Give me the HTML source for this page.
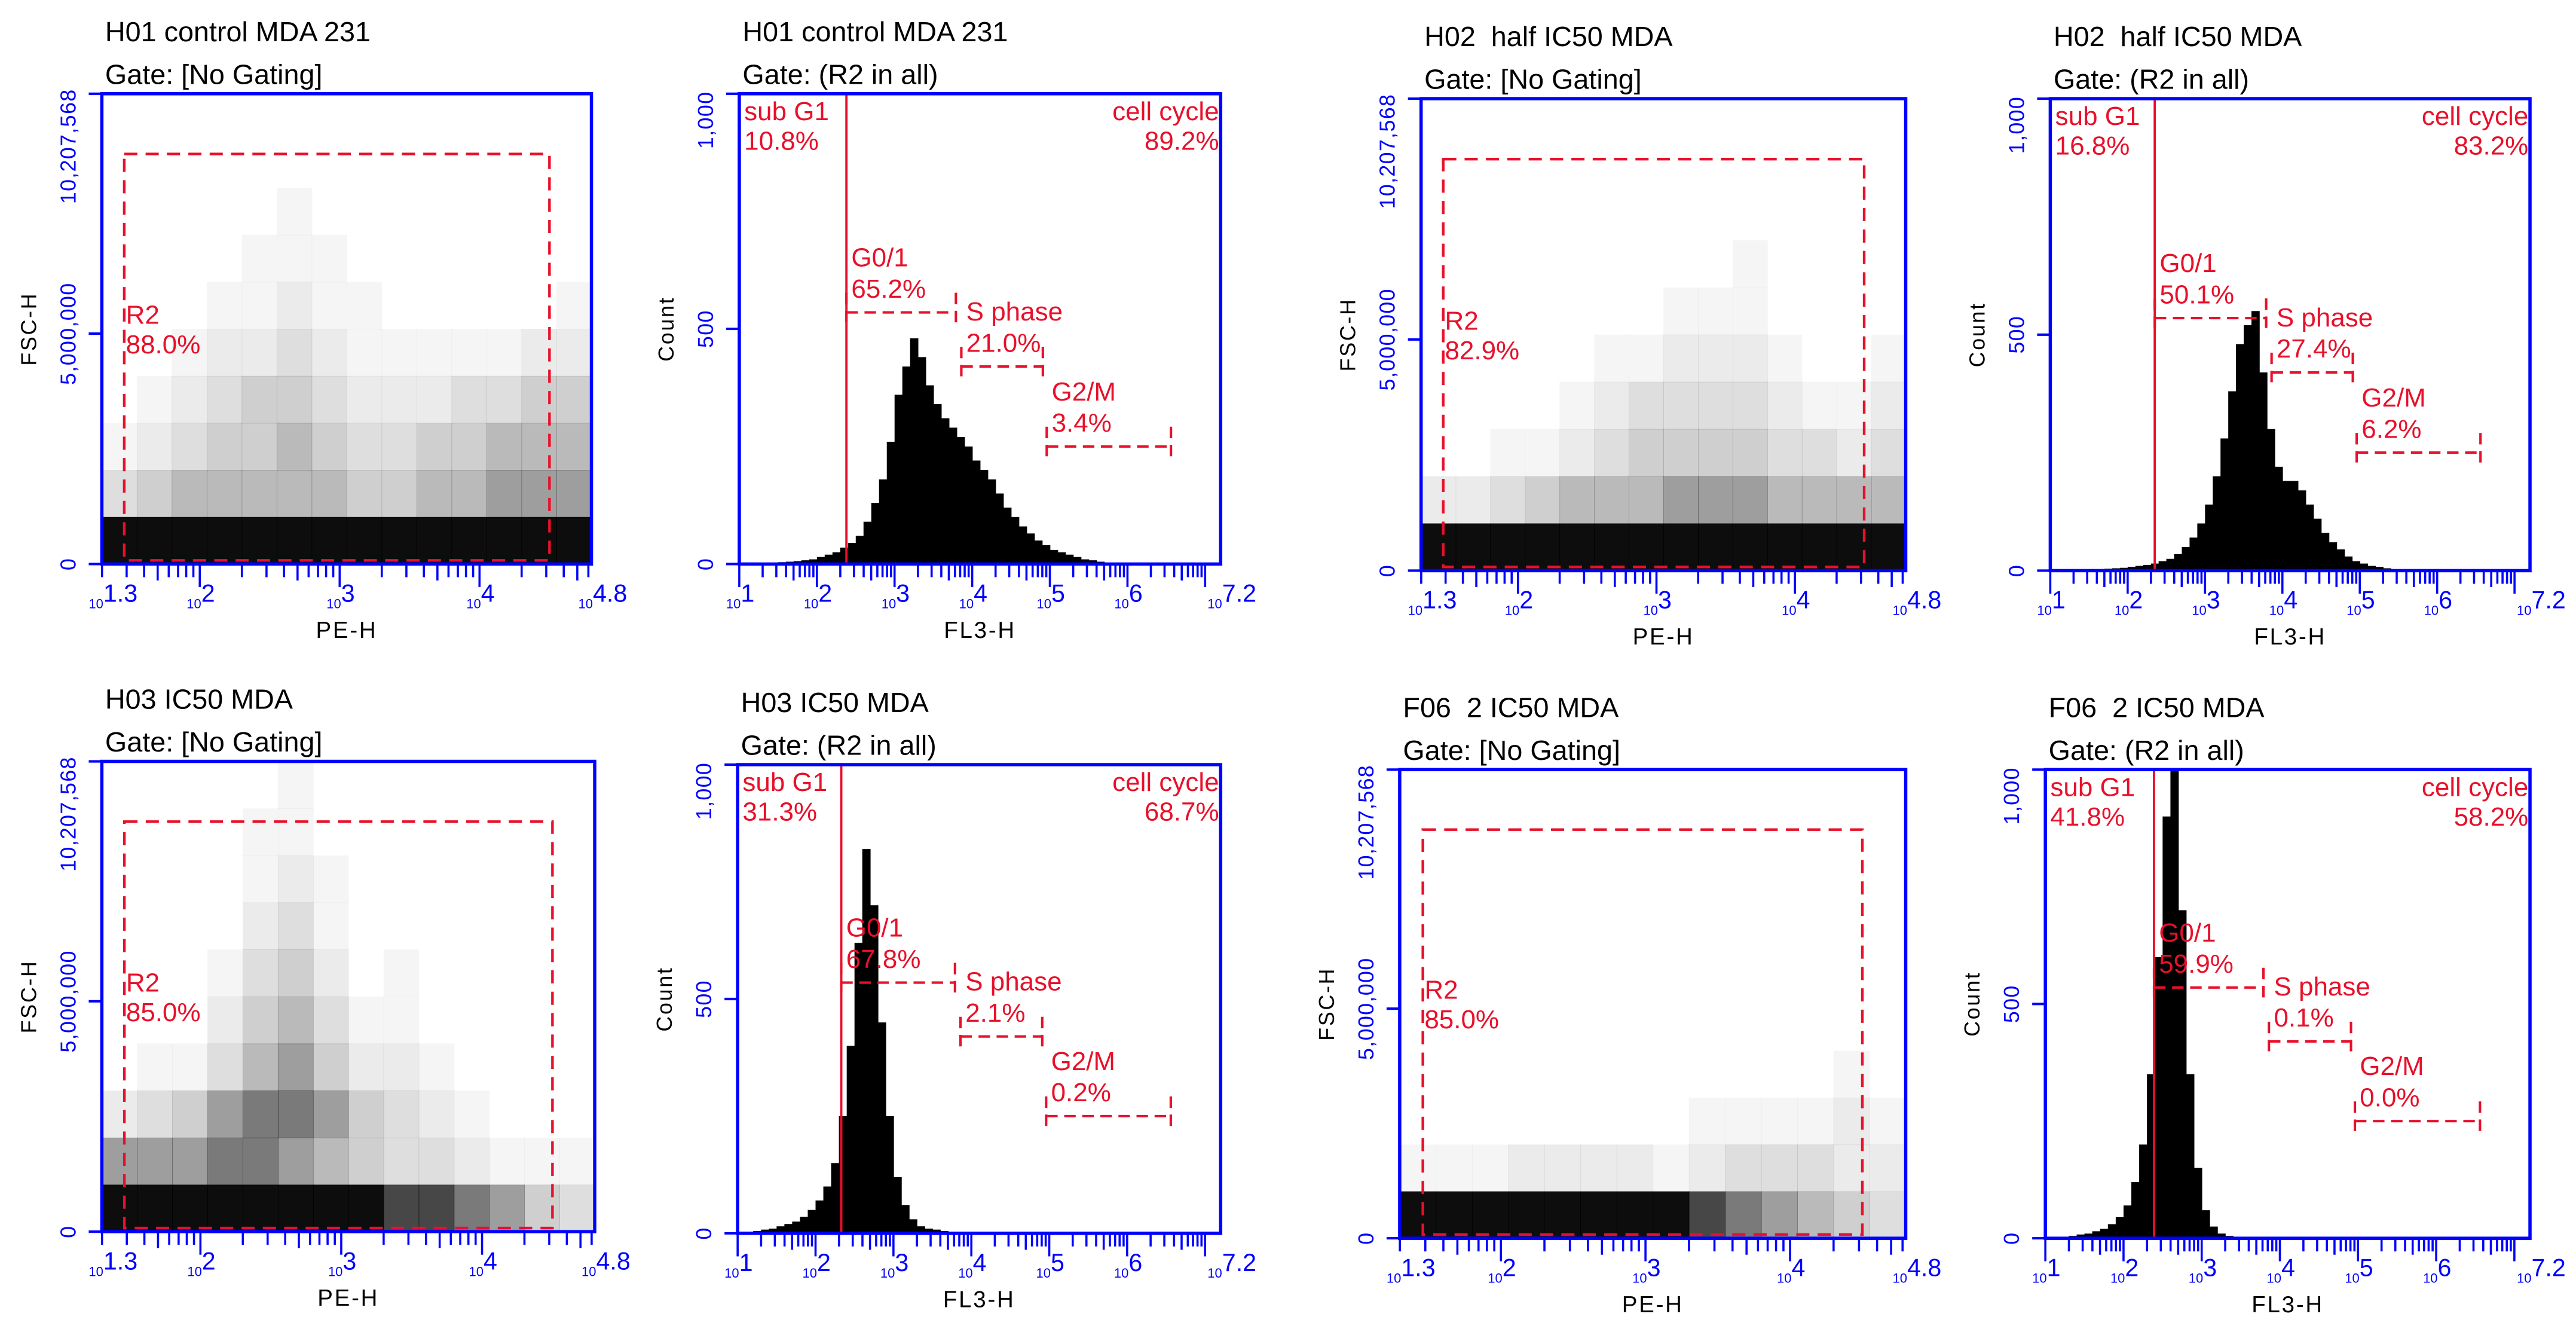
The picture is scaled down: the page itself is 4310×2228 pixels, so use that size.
<!DOCTYPE html>
<html><head><meta charset="utf-8">
<style>
html,body{margin:0;padding:0;background:#fff;}
svg{display:block;}
text{font-family:"Liberation Sans",sans-serif;white-space:pre;}
</style></head>
<body>
<svg id="fig" width="4310" height="2228" viewBox="0 0 1568 810" preserveAspectRatio="none" xmlns="http://www.w3.org/2000/svg" xml:space="preserve"></svg>
<script>
// Histogram counts, bins of 0.1 log units starting at log10 = 1.0 (62 bins to 7.2)
const binStart = 1.0;
const binWidth = 0.1;
const histH01 = [0,0,0,2,3,4,5,6,8,10, 15,20,25,35,45,60,90,130,180,260, 360,420,480,440,380,340,310,290,270,250, 220,200,180,150,120,100,80,65,50,40, 30,25,20,15,10,8,5,3,2,1, 0,0,0,0,0,0,0,0,0,0,0,0];
const histH02 = [0,0,0,0,1,2,3,4,5,6, 8,10,12,15,20,25,35,50,70,100, 140,200,280,380,480,520,550,420,300,220, 190,190,170,140,110,80,60,45,30,20, 15,10,8,5,3,2,1,0,0,0, 0,0,0,0,0,0,0,0,0,0,0,0];
const histH03 = [2,3,5,8,10,15,20,25,35,50, 70,100,150,250,400,620,820,700,450,250, 120,60,30,15,10,8,5,3,2,1, 0,0,0,0,0,0,0,0,0,0, 0,0,0,0,0,0,0,0,0,0, 0,0,0,0,0,0,0,0,0,0,0,0];
const histF06 = [1,2,3,5,8,10,15,20,30,45, 70,120,200,350,600,900,1000,700,350,150, 60,25,10,5,3,2,1,0,0,0, 0,0,0,0,0,0,0,0,0,0, 0,0,0,0,0,0,0,0,0,0, 0,0,0,0,0,0,0,0,0,0,0,0];
// Scatter density grids (14 cols over log 1.3-4.8, 10 rows over 0-10.2M, row 0 = top), digits 0-9
const densH01 = ["00000000000000","00000000000000","00000100000000","00001110000000","00011211000001","00122321111122","01234432223344","12344543344555","34555554455666","99999999999999"];
const densH02 = ["00000000000000","00000000000000","00000000000000","00000000010000","00000001110000","00000112221001","00001233332112","00112344443323","22345556665555","99999999999999"];
const densH03 = ["00000100000000","00001100000000","00001210000000","00002310000000","00013420100000","00024531100000","01135642210000","23467764321000","66677654332111","99999999887643"];
const densF06 = ["00000000000000","00000000000000","00000000000000","00000000000000","00000000000000","00000000000000","00000000000010","00000000111121","11122221233322","99999999876543"];
// Gate percentages
const r2Pct = ["88.0%","82.9%","85.0%","85.0%"];
const subG1Pct = ["10.8%","16.8%","31.3%","41.8%"];
const cyclePct = ["89.2%","83.2%","68.7%","58.2%"];
const g01Pct = ["65.2%","50.1%","67.8%","59.9%"];
const sPct = ["21.0%","27.4%","2.1%","0.1%"];
const g2mPct = ["3.4%","6.2%","0.2%","0.0%"];
const gateLog = [2.38,2.35,2.33,2.39];

const NS="http://www.w3.org/2000/svg";
const svg=document.getElementById('fig');
const BLUE="#0000ff", RED="#e8102a";
const OPAC=[0,0.04,0.08,0.13,0.19,0.27,0.38,0.52,0.72,0.95];
function el(tag,attrs,parent){const e=document.createElementNS(NS,tag);for(const k in attrs)e.setAttribute(k,attrs[k]);(parent||svg).appendChild(e);return e;}

const scatters=[
 {t1:"H01 control MDA 231",box:[62,57,360,343],dens:densH01,i:0},
 {t1:"H02  half IC50 MDA",box:[865,60,1160,347],dens:densH02,i:1},
 {t1:"H03 IC50 MDA",box:[62,463,362,749],dens:densH03,i:2},
 {t1:"F06  2 IC50 MDA",box:[852,468,1160,753],dens:densF06,i:3}];
const hists=[
 {t1:"H01 control MDA 231",box:[450,57,743,343],data:histH01,i:0},
 {t1:"H02  half IC50 MDA",box:[1248,60,1540,347],data:histH02,i:1},
 {t1:"H03 IC50 MDA",box:[449,465,743,750],data:histH03,i:2},
 {t1:"F06  2 IC50 MDA",box:[1245,468,1540,753],data:histF06,i:3}];

function logTicks(g,x0,x1,lo,hi,y,name){
  const sx=v=>x0+(v-lo)/(hi-lo)*(x1-x0);
  for(let d=Math.floor(lo);d<=Math.ceil(hi);d++){
    for(let k=1;k<=9;k++){
      const v=d+Math.log10(k);
      if(v<lo-1e-6||v>hi+1e-6)continue;
      const len=k===1?14:(k===5?10:8);
      const t=el('line',{x1:sx(v),x2:sx(v),y1:y,y2:y+len,stroke:BLUE,'stroke-width':1.3},g);
      
      
    }
  }
  const labs=[lo];
  for(let d=Math.ceil(lo+0.01);d<hi-0.3;d++)labs.push(d);
  labs.push(hi);
  labs.forEach(v=>{
    const tx=el('text',{x:sx(v)-8,y:y+27,fill:BLUE},g);
    
    
    const a=el('tspan',{'font-size':8},tx);a.textContent="10";
    const b=el('tspan',{'font-size':15,dy:-4},tx);b.textContent=(Number.isInteger(v)?String(v):v.toFixed(1));
  });
}
function yLabel(g,x,y,txt,name){
  const t=el('text',{x:x,y:y,fill:BLUE,'font-size':13,'text-anchor':'middle',transform:`rotate(-90 ${x} ${y})`,'letter-spacing':'0.5'},g);
  t.textContent=txt;
  
  
}
function titles(g,x,ytop,t1,t2){
  const a=el('text',{x:x,y:ytop-14,fill:'#000','font-size':17},g);a.textContent=t1;
  
  
  const b=el('text',{x:x,y:ytop+12,fill:'#000','font-size':17},g);b.textContent=t2;
  
  
}

const YMAX=10207568;
scatters.forEach(p=>{
  const [x0,y0,x1,y1]=p.box;
  const g=el('g',{});
  
  
  titles(g,x0+2,y0-25+7,p.t1,"Gate: [No Gating]");
  const sx=v=>x0+(v-1.3)/3.5*(x1-x0);
  const sy=v=>y1-v/YMAX*(y1-y0);
  const rows=p.dens.length, cols=p.dens[0].length;
  p.dens.forEach((row,r)=>{
    for(let c=0;c<cols;c++){
      const d=+row[c]; if(!d)continue;
      const lx0=1.3+c*3.5/cols, lx1=1.3+(c+1)*3.5/cols;
      const vtop=YMAX*(1-r/rows), vbot=YMAX*(1-(r+1)/rows);
      const cell=el('rect',{x:sx(lx0),y:sy(vtop),width:sx(lx1)-sx(lx0)+0.3,height:sy(vbot)-sy(vtop)+0.3,fill:'#000','fill-opacity':OPAC[d]},g);
      
      
    }
  });
  const gr=el('rect',{x:sx(1.46),y:sy(8.9e6),width:sx(4.5)-sx(1.46),height:sy(0.08e6)-sy(8.9e6),fill:'none',stroke:RED,'stroke-width':1.6,'stroke-dasharray':'8,5'},g);
  
  
  const ra=el('text',{x:sx(1.46)+1,y:sy(5.0e6)-6,fill:RED,'font-size':16},g);ra.textContent="R2";
  
  
  const rb=el('text',{x:sx(1.46)+1,y:sy(5.0e6)+12,fill:RED,'font-size':16},g);rb.textContent=r2Pct[p.i];
  
  
  const bx=el('rect',{x:x0,y:y0,width:x1-x0,height:y1-y0,fill:'none',stroke:BLUE,'stroke-width':2},g);
  
  
  [0,5e6,YMAX].forEach(v=>{const t=el('line',{x1:x0-8,x2:x0,y1:sy(v),y2:sy(v),stroke:BLUE,'stroke-width':1.5},g);
    
    });
  yLabel(g,x0-16,sy(0),"0",'y-tick-label');
  yLabel(g,x0-16,sy(5e6),"5,000,000",'y-tick-label');
  yLabel(g,x0-16,sy(YMAX)+32,"10,207,568",'y-tick-label');
  const ya=el('text',{x:x0-40,y:(y0+y1)/2,fill:'#000','font-size':13,'text-anchor':'middle','letter-spacing':'1',transform:`rotate(-90 ${x0-40} ${(y0+y1)/2})`},g);ya.textContent="FSC-H";
  
  
  logTicks(g,x0,x1,1.3,4.8,y1,'x');
  const xa=el('text',{x:(x0+x1)/2,y:y1+45,fill:'#000','font-size':14,'text-anchor':'middle','letter-spacing':'1'},g);xa.textContent="PE-H";
  
  
});

hists.forEach(p=>{
  const [x0,y0,x1,y1]=p.box;
  const g=el('g',{});
  
  
  titles(g,x0+2,y0-25+7,p.t1,"Gate: (R2 in all)");
  const sx=v=>x0+(v-1)/6.2*(x1-x0);
  const sy=v=>y1-Math.min(v,1000)/1000*(y1-y0);
  p.data.forEach((c,k)=>{
    if(!c)return;
    const a=binStart+k*binWidth;
    const b=el('rect',{x:sx(a),y:sy(c),width:sx(a+binWidth)-sx(a)+0.3,height:y1-sy(c),fill:'#000'},g);
    
    
  });
  const gx=sx(gateLog[p.i]);
  const gl=el('line',{x1:gx,x2:gx,y1:y0,y2:y1,stroke:RED,'stroke-width':1.4},g);
  
  
  function lab(x,y,t,name,anchor){const e=el('text',{x:x,y:y,fill:RED,'font-size':16,'text-anchor':anchor||'start'},g);e.textContent=t;
    
    }
  lab(x0+3,y0+16,"sub G1",'sub-g1-label');lab(x0+3,y0+34,subG1Pct[p.i],'sub-g1-percent');
  lab(x1-1,y0+16,"cell cycle",'cell-cycle-label','end');lab(x1-1,y0+34,cyclePct[p.i],'cell-cycle-percent','end');
  const segs=[[gateLog[p.i],3.79,535,"G0/1",g01Pct[p.i],'g0-1'],[3.86,4.91,420,"S phase",sPct[p.i],'s-phase'],[4.96,6.56,250,"G2/M",g2mPct[p.i],'g2-m']];
  segs.forEach(s=>{
    const a=sx(s[0]),b=sx(s[1]),y=sy(s[2]);
    const ln=el('path',{d:`M${a},${y}H${b}M${a},${y-12}V${y+10}M${b},${y-12}V${y+10}`,stroke:RED,'stroke-width':1.5,fill:'none','stroke-dasharray':'7,4'},g);
    
    
    lab(a+3,y-28,s[3],s[5]+'-label');lab(a+3,y-9,s[4],s[5]+'-percent');
  });
  const bx=el('rect',{x:x0,y:y0,width:x1-x0,height:y1-y0,fill:'none',stroke:BLUE,'stroke-width':2},g);
  
  
  [0,500,1000].forEach(v=>{const t=el('line',{x1:x0-8,x2:x0,y1:sy(v),y2:sy(v),stroke:BLUE,'stroke-width':1.5},g);
    
    });
  yLabel(g,x0-16,sy(0),"0",'y-tick-label');
  yLabel(g,x0-16,sy(500),"500",'y-tick-label');
  yLabel(g,x0-16,sy(1000)+16,"1,000",'y-tick-label');
  const ya=el('text',{x:x0-40,y:(y0+y1)/2,fill:'#000','font-size':13,'text-anchor':'middle','letter-spacing':'1',transform:`rotate(-90 ${x0-40} ${(y0+y1)/2})`},g);ya.textContent="Count";
  
  
  logTicks(g,x0,x1,1,7.2,y1,'x');
  const xa=el('text',{x:(x0+x1)/2,y:y1+45,fill:'#000','font-size':14,'text-anchor':'middle','letter-spacing':'1'},g);xa.textContent="FL3-H";
  
  
});
</script>
</body></html>
